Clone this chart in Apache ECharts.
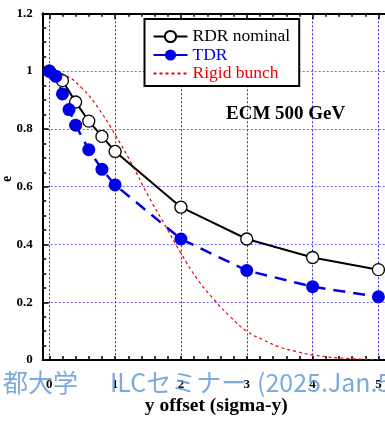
<!DOCTYPE html>
<html>
<head>
<meta charset="utf-8">
<script src="https://cdn.jsdelivr.net/npm/echarts@6/dist/echarts.min.js"></script>
<style>
html,body{margin:0;padding:0;background:#fff;}
#chart{width:385px;height:421px;}
</style>
</head>
<body>
<div id="chart"></div>
<script>
// ---- data ----
const rdrX = [0, 0.2, 0.4, 0.6, 0.8, 1, 2, 3, 4, 5];
const rdrY = [1.0, 0.967, 0.893, 0.827, 0.774, 0.722, 0.529, 0.419, 0.355, 0.313];
const tdrX = [0, 0.1, 0.2, 0.3, 0.4, 0.6, 0.8, 1, 2, 3, 4, 5];
const tdrY = [1.0, 0.982, 0.921, 0.867, 0.813, 0.728, 0.660, 0.606, 0.419, 0.310, 0.254, 0.219];
const rigidX = [0, 0.25, 0.5, 0.75, 1, 1.25, 1.5, 1.75, 2, 2.25, 2.5, 2.75, 3, 3.25, 3.5, 3.75, 4, 4.5, 5];
const rigidY = [1.0, 0.985, 0.94, 0.87, 0.78, 0.68, 0.57, 0.47, 0.37, 0.28, 0.21, 0.15, 0.10, 0.07, 0.045, 0.03, 0.018, 0.006, 0.002];
const xMajorTicks = [0, 1, 2, 3, 4, 5];
const xMinorTicks = [0.2, 0.4, 0.6, 0.8, 1.2, 1.4, 1.6, 1.8, 2.2, 2.4, 2.6, 2.8, 3.2, 3.4, 3.6, 3.8, 4.2, 4.4, 4.6, 4.8];
const seriesNames = ['RDR nominal', 'TDR', 'Rigid bunch'];
const xName = 'y offset (sigma-y)';
const annotation = 'ECM 500 GeV';
const watermarkA = '都大学';
const watermarkB = 'ILCセミナー';
const watermarkC = '(2025.Jan.5';

const pair = (xs, ys) => xs.map((x, i) => [x, ys[i]]);
const FONT = 'Liberation Serif';
const axisLine = { show: true, onZero: false, lineStyle: { color: '#000', width: 2 } };

function xAx(pos, ticks, len, labels, split) {
  return {
    type: 'value', position: pos, min: -0.1, max: 5.1, gridIndex: 0,
    axisLine: axisLine,
    axisTick: { show: true, inside: true, length: len, lineStyle: { color: '#000', width: 1.5 }, customValues: ticks },
    axisLabel: labels ? { show: true, customValues: ticks, fontFamily: FONT, fontWeight: 'bold', fontSize: 13, color: '#000', margin: 18 } : { show: false },
    splitLine: split ? { show: true, lineStyle: { color: '#2a2ae8', width: 1, type: [2, 2] } } : { show: false },
    name: labels ? xName : '',
    nameLocation: 'middle', nameGap: 35,
    nameTextStyle: { fontFamily: FONT, fontWeight: 'bold', fontSize: 19.5, color: '#000', padding: [0, 0, 0, 5] }
  };
}

const wmFont = '25px "Noto Sans CJK JP"';
const wmFill = 'rgba(100,155,215,0.85)';

const chart = echarts.init(document.getElementById('chart'));
chart.setOption({
  animation: false,
  backgroundColor: '#fff',
  grid: { left: 42.7, top: 13.3, right: -4.5, bottom: 56, containLabel: false },
  xAxis: [
    xAx('bottom', xMajorTicks, 4, true, true),
    xAx('bottom', xMinorTicks, 4, false, false),
    xAx('top', xMajorTicks, 6, false, false),
    xAx('top', xMinorTicks, 3.5, false, false)
  ],
  yAxis: [{
    type: 'value', min: 0, max: 1.2, interval: 0.2, position: 'left',
    axisLine: axisLine,
    axisTick: { show: true, inside: true, length: 6, lineStyle: { color: '#000', width: 1.5 } },
    minorTick: { show: true, splitNumber: 4, length: 3.5, lineStyle: { color: '#000', width: 1.5 } },
    axisLabel: { fontFamily: FONT, fontWeight: 'bold', fontSize: 13, color: '#000', margin: 10 },
    splitLine: { show: true, lineStyle: { color: '#6a6aff', width: 1, type: [2, 2] } }
  }],
  legend: {
    orient: 'vertical', left: 144.5, top: 19,
    backgroundColor: '#fff', borderColor: '#000', borderWidth: 2,
    padding: [8.5, 9, 3.5, 8], itemGap: 0.5, itemWidth: 34, itemHeight: 14,
    textStyle: { fontFamily: FONT, fontSize: 17.5 },
    data: [
      { name: seriesNames[0], textStyle: { color: '#000' } },
      { name: seriesNames[1], textStyle: { color: '#0000e6' }, lineStyle: { type: 'solid' } },
      { name: seriesNames[2], textStyle: { color: '#ee0000' }, itemStyle: { opacity: 0 } }
    ]
  },
  graphic: [
    { type: 'text', left: 226, top: 105, z: 100,
      style: { text: annotation, font: 'bold 19px "Liberation Serif"', fill: '#000' } },
    { type: 'text', left: 3, top: 370, z: 200, style: { text: watermarkA, font: wmFont, fill: wmFill } },
    { type: 'text', left: 110, top: 370, z: 200, style: { text: watermarkB, font: wmFont, fill: wmFill } },
    { type: 'text', left: 257, top: 370, z: 200, style: { text: watermarkC, font: wmFont, fill: wmFill } },
    { type: 'text', x: 0, y: 182, rotation: Math.PI / 2, z: 100,
      style: { text: 'e', font: 'bold 14px "Liberation Serif"', fill: '#000' } }
  ],
  series: [
    { name: seriesNames[2], type: 'line', xAxisIndex: 0, data: pair(rigidX, rigidY), smooth: true,
      showSymbol: false, symbol: 'none', z: 2,
      lineStyle: { color: '#ee0000', width: 1.2, type: [3, 3] }, itemStyle: { color: '#ee0000' } },
    { name: seriesNames[0], type: 'line', xAxisIndex: 0, data: pair(rdrX, rdrY), z: 3,
      symbol: 'circle', symbolSize: 12,
      lineStyle: { color: '#000', width: 2 },
      itemStyle: { color: '#fff', borderColor: '#000', borderWidth: 1.3 } },
    { name: seriesNames[1], type: 'line', xAxisIndex: 0, data: pair(tdrX, tdrY), z: 4,
      symbol: 'circle', symbolSize: 13,
      lineStyle: { color: '#0000e6', width: 2.5, type: [12, 8] },
      itemStyle: { color: '#0000e6' } }
  ]
});
</script>
</body>
</html>
